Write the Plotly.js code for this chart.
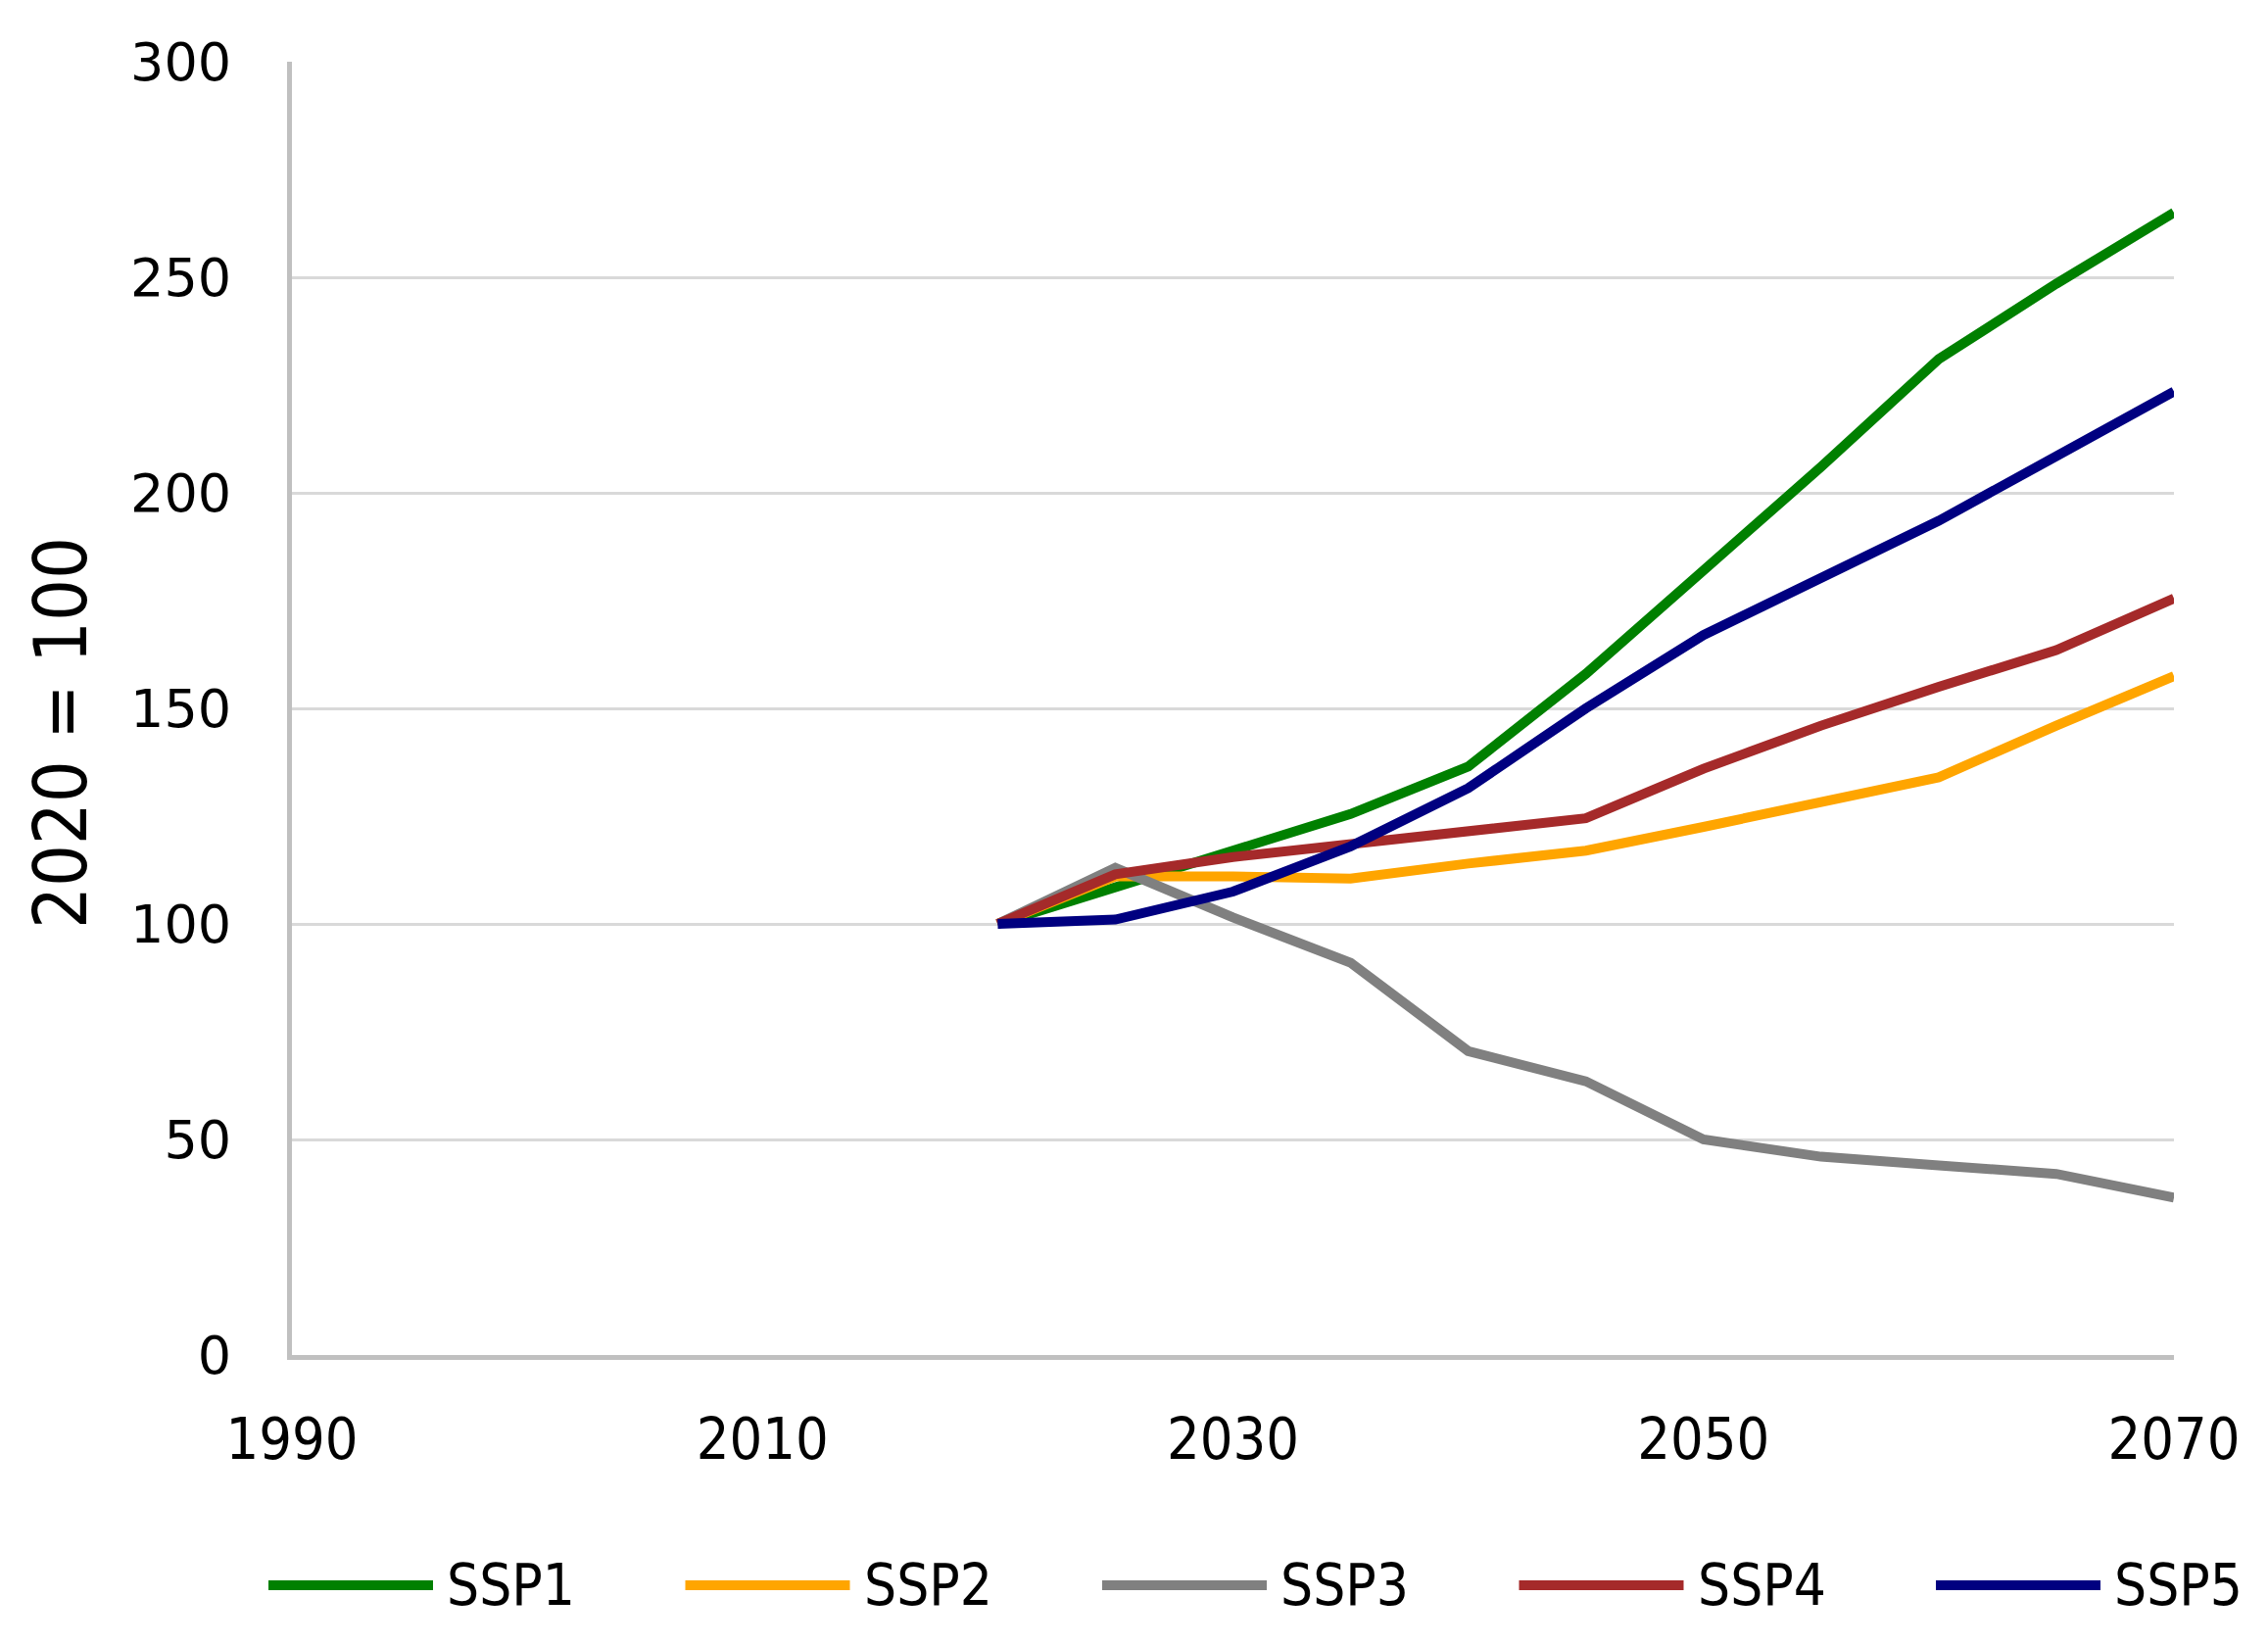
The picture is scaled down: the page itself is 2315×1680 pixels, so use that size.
<!DOCTYPE html>
<html>
<head>
<meta charset="utf-8">
<script src="https://cdn.plot.ly/plotly-3.0.1.min.js"></script>
<style>html,body{margin:0;padding:0;background:#fff;}#chart{width:2315px;height:1680px;}</style>
</head>
<body>
<div id="chart"></div>
<script>
// ---- data ----
const years = [2020, 2025, 2030, 2035, 2040, 2045, 2050, 2055, 2060, 2065, 2070];
const seriesNames = ["SSP1", "SSP2", "SSP3", "SSP4", "SSP5"];
const ssp1 = [100, 108.5, 117, 125.5, 136.5, 158, 182, 206, 231, 248.5, 265];
const ssp2 = [100, 111, 111, 110.5, 114, 117, 122.5, 128, 134, 146, 157.5];
const ssp3 = [100, 113, 101.5, 91, 70.5, 63.5, 50, 46, 44, 42, 36.5];
const ssp4 = [100, 111.5, 115.5, 118.5, 122, 124.5, 136, 146, 155, 163.5, 175.5];
const ssp5 = [100, 101, 107.5, 118, 131.5, 150, 167, 180, 193.5, 208.5, 223.5];
const xTickVals = [1990, 2010, 2030, 2050, 2070];
const yTitle = "2020 = 100";
const colors = ["#008000", "#FFA500", "#808080", "#A52A2A", "#000080"];

const seriesValues = [ssp1, ssp2, ssp3, ssp4, ssp5];
const condFont = "DejaVu Sans Condensed, DejaVu Sans, sans-serif";
const regFont = "DejaVu Sans, Verdana, sans-serif";

// ---- layout geometry (pixels) ----
const W = 2315, H = 1680;
const M = {l: 298, r: 96, t: 63, b: 297};
const pw = W - M.l - M.r, ph = H - M.t - M.b;
const px2x = p => (p - M.l) / pw;
const py2y = p => (H - M.b - p) / ph;

const traces = seriesNames.map((n, i) => ({
  type: "scatter", mode: "lines", name: n,
  x: years, y: seriesValues[i],
  line: {color: colors[i], width: 10, shape: "linear"},
  showlegend: false, hoverinfo: "x+y+name"
}));

// manual legend (long line samples as in the reference)
const shapes = [], annotations = [];
const legY = py2y(1618);
seriesNames.forEach((n, i) => {
  const x0 = 274 + 425.5 * i;
  shapes.push({type: "line", xref: "paper", yref: "paper",
    x0: px2x(x0), x1: px2x(x0 + 168), y0: legY, y1: legY,
    line: {color: colors[i], width: 10}});
  annotations.push({xref: "paper", yref: "paper", x: px2x(x0 + 180), y: legY,
    xanchor: "left", yanchor: "middle", showarrow: false, text: n,
    font: {family: condFont, size: 58, color: "#000"}});
});
// y-axis title
annotations.push({xref: "paper", yref: "paper", x: px2x(62), y: py2y(748),
  xanchor: "center", yanchor: "middle", showarrow: false, textangle: -90,
  text: yTitle, font: {family: condFont, size: 75, color: "#000"}});

const layout = {
  width: W, height: H,
  margin: M,
  paper_bgcolor: "#fff", plot_bgcolor: "#fff",
  showlegend: false,
  font: {family: condFont, color: "#000"},
  xaxis: {
    range: [1990, 2070], tickvals: xTickVals, ticktext: xTickVals.map(String),
    showgrid: false, zeroline: false,
    showline: true, linecolor: "#c0c0c0", linewidth: 5,
    ticks: "", ticklabelstandoff: 30,
    tickfont: {family: condFont, size: 59, color: "#000"}
  },
  yaxis: {
    range: [0, 300], dtick: 50, tick0: 0,
    showgrid: true, gridcolor: "#d9d9d9", gridwidth: 3,
    zeroline: false,
    showline: true, linecolor: "#c0c0c0", linewidth: 5,
    ticks: "", ticklabelstandoff: 46,
    tickfont: {family: regFont, size: 54, color: "#000"}
  },
  shapes: shapes,
  annotations: annotations
};

Plotly.newPlot("chart", traces, layout, {displayModeBar: false, staticPlot: true});
</script>
</body>
</html>
